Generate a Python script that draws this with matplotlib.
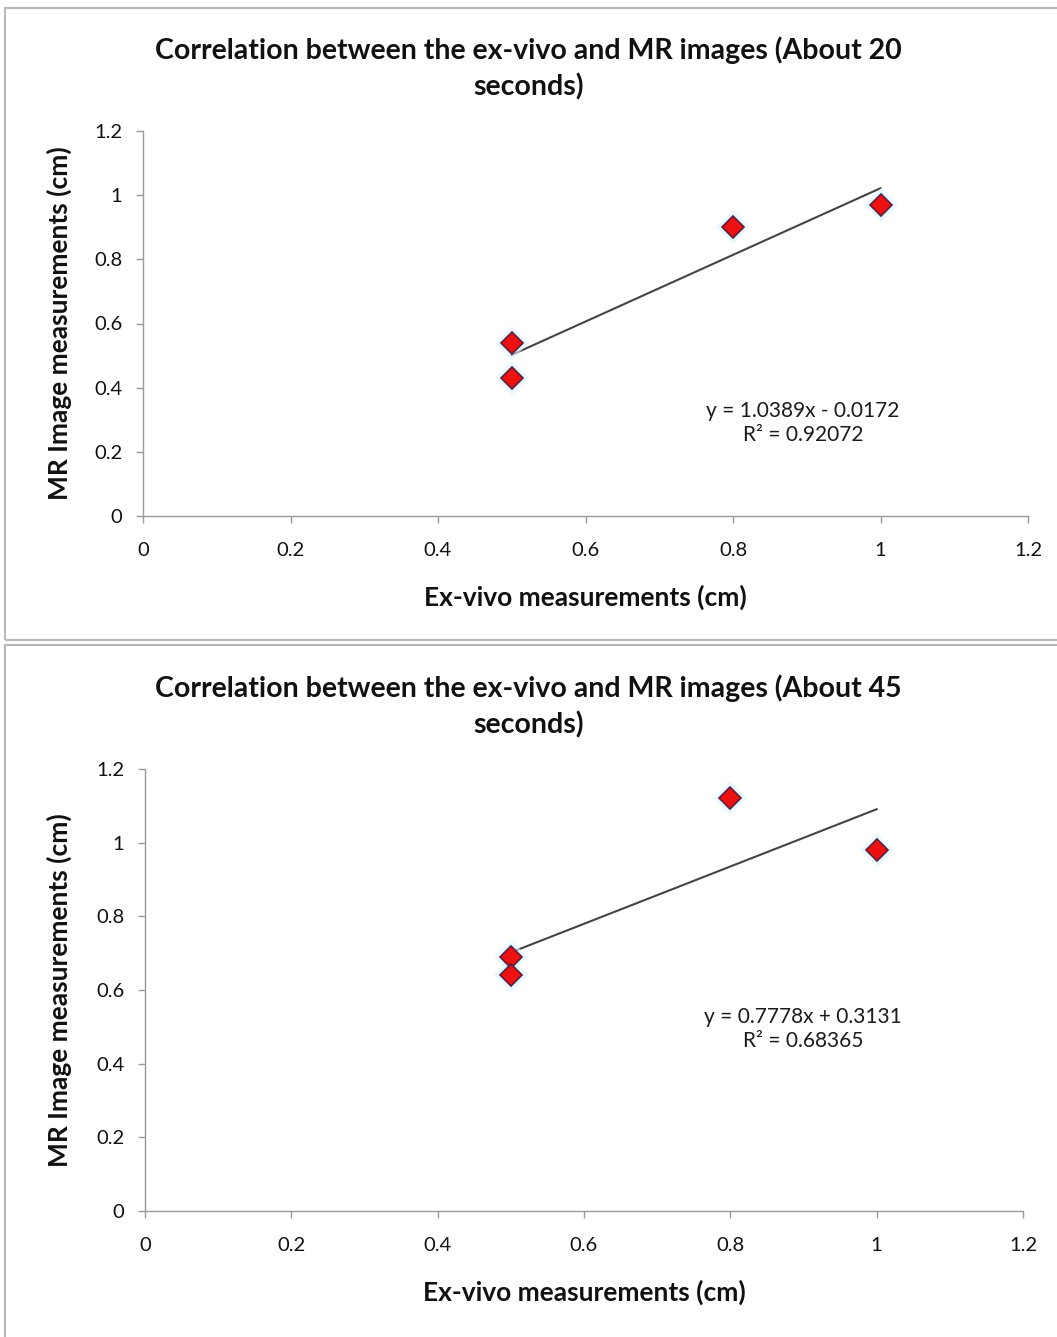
import matplotlib
matplotlib.use("Agg")
import matplotlib.pyplot as plt
import numpy as np
from matplotlib.patches import Rectangle

# ---- data ----
x_20 = [0.5, 0.5, 0.8, 1.0]
y_20 = [0.54, 0.43, 0.90, 0.97]
x_45 = [0.5, 0.5, 0.8, 1.0]
y_45 = [0.69, 0.64, 1.12, 0.98]
titles = ["Correlation between the ex-vivo and MR images (About 20\nseconds)",
          "Correlation between the ex-vivo and MR images (About 45\nseconds)"]
eq_texts = ["y = 1.0389x - 0.0172\nR\u00b2 = 0.92072",
            "y = 0.7778x + 0.3131\nR\u00b2 = 0.68365"]
ticks = [0, 0.2, 0.4, 0.6, 0.8, 1, 1.2]
tick_labels = ["0", "0.2", "0.4", "0.6", "0.8", "1", "1.2"]
xlabel = "Ex-vivo measurements (cm)"
ylabel = "MR Image measurements (cm)"

plt.rcParams['font.family'] = ['Lato', 'DejaVu Sans']

W, H = 1057, 1337
fig = plt.figure(figsize=(W / 100, H / 100), dpi=100)

# panel borders
border_col = "#b8b8b8"
fig.add_artist(Rectangle((5 / W, 1 - 640 / H), 1.2, (640 - 8) / H,
                         transform=fig.transFigure, fill=False,
                         edgecolor=border_col, lw=1.5))
fig.add_artist(Rectangle((5 / W, -0.1), 1.2, (0.1 + 1 - 645 / H),
                         transform=fig.transFigure, fill=False,
                         edgecolor=border_col, lw=1.5))

panels = [
    dict(x=x_20, y=y_20, title=titles[0], eq=eq_texts[0],
         px=(143, 1028, 516, 131), title_y=68, eq_pos=(0.895, 0.29)),
    dict(x=x_45, y=y_45, title=titles[1], eq=eq_texts[1],
         px=(145, 1023, 1211, 769), title_y=706, eq_pos=(0.899, 0.494)),
]

for p in panels:
    l, r, b, t = p["px"]
    ax = fig.add_axes([l / W, 1 - b / H, (r - l) / W, (b - t) / H])
    ax.set_xlim(0, 1.2)
    ax.set_ylim(0, 1.2)
    ax.set_xticks(ticks)
    ax.set_xticklabels(tick_labels)
    ax.set_yticks(ticks)
    ax.set_yticklabels(tick_labels)
    for s in ["top", "right"]:
        ax.spines[s].set_visible(False)
    for s in ["left", "bottom"]:
        ax.spines[s].set_color("#999999")
        ax.spines[s].set_linewidth(1.0)
    ax.tick_params(axis="both", direction="out", length=5, width=1,
                   color="#999999", labelsize=14.5, labelcolor="#111111")
    ax.tick_params(axis="x", pad=14)
    ax.tick_params(axis="y", pad=10)

    xs = np.array(p["x"])
    ys = np.array(p["y"])
    m, c = np.polyfit(xs, ys, 1)
    xl = np.array([xs.min(), xs.max()])
    ax.plot(xl, m * xl + c, color="#444444", lw=1.5, zorder=2)

    # soft halo
    ax.plot(xs, ys, linestyle="none", marker="D", markersize=17,
            color="#d8f4ff", alpha=0.6, markeredgewidth=0, zorder=3)
    ax.plot(xs, ys, linestyle="none", marker="D", markersize=11,
            markerfacecolor="#ee1111", markeredgecolor="#5a2040",
            markeredgewidth=1.2, zorder=4)

    ax.text(p["eq_pos"][0], p["eq_pos"][1], p["eq"], ha="center", va="center",
            fontsize=15, color="#1a1a1a", linespacing=1.3)

    ax.set_xlabel(xlabel, fontsize=19, fontweight="bold", labelpad=18,
                  color="#111111")
    ax.set_ylabel(ylabel, fontsize=19, fontweight="bold",
                  color="#111111")
    ax.yaxis.set_label_coords((72 - l) / (r - l), 0.5)

    fig.text(0.5, 1 - p["title_y"] / H, p["title"], ha="center", va="center",
             fontsize=20.5, fontweight="bold", color="#111111", linespacing=1.42)

fig.savefig("out.png", dpi=100, facecolor="white")
